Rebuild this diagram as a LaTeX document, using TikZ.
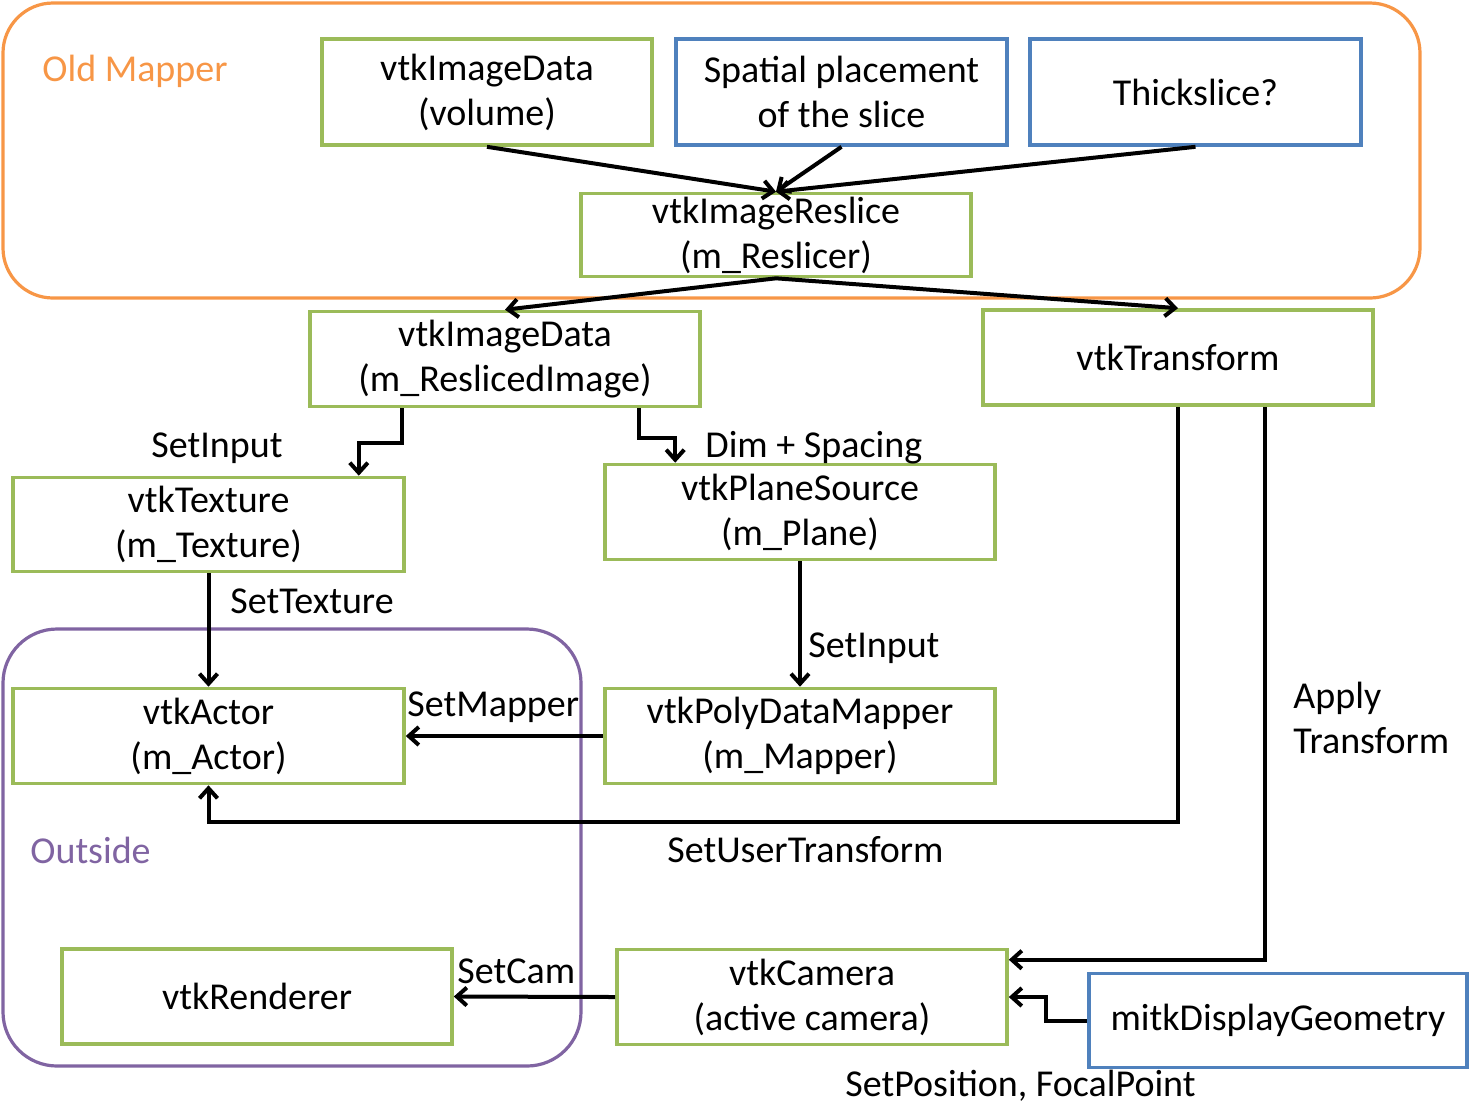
\documentclass[tikz,border=0pt]{standalone}
\usepackage{fontspec}
\setmainfont{Carlito}
\usetikzlibrary{arrows.meta,calc}
\definecolor{vgreen}{HTML}{9BBB59}
\definecolor{vblue}{HTML}{4F81BD}
\definecolor{vorange}{HTML}{F79646}
\definecolor{vpurple}{HTML}{8064A2}
\begin{document}
\begin{tikzpicture}[x=0.5pt,y=-0.5pt,
  every node/.style={font=\fontsize{19}{22.5}\selectfont},
  box/.style={draw, line width=1.8pt, inner sep=0pt, align=center, minimum width=#1*0.5pt},
  gbox/.style={box=#1, draw=vgreen},
  bbox/.style={box=#1, draw=vblue},
  lbl/.style={inner sep=0pt, anchor=west},
  arr/.style={line width=2pt, -{Straight Barb[length=5pt,width=9pt,line width=2pt]}},
  grp/.style={line width=1.6pt}]
\useasboundingbox (0,0) rectangle (1473,1116);
% groups
\draw[grp, draw=vorange, rounded corners=25pt] (3,3) rectangle (1420,298);
\draw[grp, draw=vpurple, rounded corners=27pt] (3,629) rectangle (581,1066);
\node[lbl, text=vorange] (oldlbl) at (42,71) {Old Mapper};
\node[lbl, text=vpurple] (outlbl) at (30,850) {Outside};
% nodes
\node[gbox=330, minimum height=53pt] (img) at (487,92) {vtkImageData\\(volume)};
\node[bbox=331, minimum height=53pt] (spat) at (841.5,92) {Spatial placement\\of the slice};
\node[bbox=331, minimum height=53pt] (thick) at (1195.5,92) {Thickslice?};
\node[gbox=390, minimum height=41.5pt] (resl) at (776,235) {vtkImageReslice\\(m\_Reslicer)};
\node[gbox=390, minimum height=47.5pt] (rimg) at (505,359) {vtkImageData\\(m\_ReslicedImage)};
\node[gbox=390, minimum height=47.5pt] (trans) at (1178,357.5) {vtkTransform};
\node[gbox=391, minimum height=47pt] (tex) at (208.5,524.5) {vtkTexture\\(m\_Texture)};
\node[gbox=390, minimum height=47.5pt] (plane) at (800,512) {vtkPlaneSource\\(m\_Plane)};
\node[gbox=391, minimum height=47.5pt] (actor) at (208.5,736) {vtkActor\\(m\_Actor)};
\node[gbox=390, minimum height=47.5pt] (mapper) at (800,736) {vtkPolyDataMapper\\(m\_Mapper)};
\node[gbox=390, minimum height=47.5pt] (rend) at (257,996.5) {vtkRenderer};
\node[gbox=390, minimum height=47.5pt] (cam) at (812,997) {vtkCamera\\(active camera)};
\node[bbox=378, minimum height=47pt] (geo) at (1278,1020.5) {mitkDisplayGeometry};
% connectors
\draw[arr] (img.south) -- (resl.north);
\draw[arr] (spat.south) -- (resl.north);
\draw[arr] (thick.south) -- (resl.north);
\draw[arr] (resl.south) -- (rimg.north);
\draw[arr] (resl.south) -- (trans.north);
\draw[arr] ($(rimg.south west)+(94,0)$) -- ++(0,35) -| ($(tex.north east)+(-47,0)$);
\draw[arr] ($(rimg.south west)+(331,0)$) -- ++(0,30) -| ($(plane.north west)+(72,0)$);
\draw[arr] (tex.south) -- (actor.north);
\draw[arr] (plane.south) -- (mapper.north);
\draw[arr] (mapper.west) -- (actor.east);
\draw[arr] (trans.south) -- ++(0,415) -| (actor.south);
\draw[arr] ($(trans.south west)+(284,0)$) |- ($(cam.north east)+(0,12)$);
\draw[arr] (geo.west) -- ++(-41,0) |- (cam.east);
\draw[arr] (cam.west) -- (rend.east);
% labels
\node[inner sep=0pt] (l1) at (217,448) {SetInput};
\node[lbl] (l2) at (705,448) {Dim + Spacing};
\node[lbl] (l3) at (230,601) {SetTexture};
\node[lbl] (l4) at (808,648) {SetInput};
\node[lbl] (l5) at (407,707) {SetMapper};
\node[lbl] (l6) at (667,850) {SetUserTransform};
\node[lbl, align=left] (l7) at (1293,718) {Apply\\Transform};
\node[lbl] (l8) at (845,1086) {SetPosition, FocalPoint};
\node[lbl] (l9) at (457,971) {SetCam};
\end{tikzpicture}
\end{document}
